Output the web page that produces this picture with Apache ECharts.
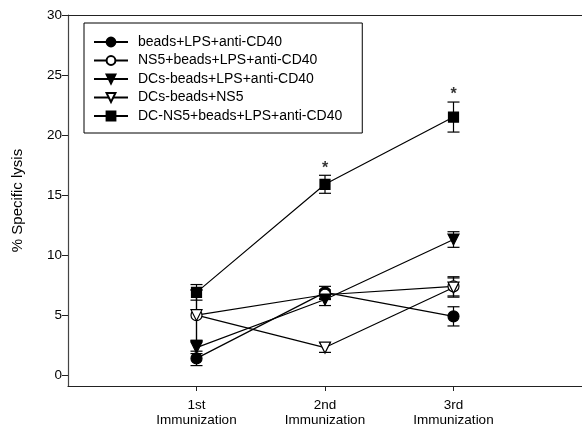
<!DOCTYPE html>
<html>
<head>
<meta charset="utf-8">
<script src="https://cdn.jsdelivr.net/npm/echarts@6/dist/echarts.min.js"></script>
<style>html,body{margin:0;padding:0;background:#fff}#c{width:582px;height:431px}</style>
</head>
<body>
<div id="c"></div>
<script>
var xPositions = [1, 2, 3];
var tickLabels = ['1st\nImmunization', '2nd\nImmunization', '3rd\nImmunization'];
var yTicks = [0, 5, 10, 15, 20, 25, 30];

var names = ['beads+LPS+anti-CD40', 'NS5+beads+LPS+anti-CD40', 'DCs-beads+LPS+anti-CD40', 'DCs-beads+NS5', 'DC-NS5+beads+LPS+anti-CD40'];
var beadsLps = [1.4, 6.9, 4.9];
var beadsLpsErr = [0.6, 0.5, 0.8];
var ns5BeadsLps = [5.0, 6.7, 7.4];
var ns5BeadsLpsErr = [2.1, 0.4, 0.8];
var dcsBeadsLps = [2.3, 6.3, 11.3];
var dcsBeadsLpsErr = [0.5, 0.5, 0.65];
var dcsBeadsNs5 = [5.0, 2.3, 7.3];
var dcsBeadsNs5Err = [2.1, 0.4, 0.8];
var dcNs5 = [6.9, 15.9, 21.5];
var dcNs5Err = [0.65, 0.75, 1.25];
var starIdx = [1, 2];

var downTri = 'path://M0,0 L10,0 L5,9 Z';
var sets = [
  {v: beadsLps, e: beadsLpsErr, sym: 'circle', size: 11, fill: '#000'},
  {v: ns5BeadsLps, e: ns5BeadsLpsErr, sym: 'circle', size: 11, fill: '#fff'},
  {v: dcsBeadsLps, e: dcsBeadsLpsErr, sym: downTri, size: 11, fill: '#000'},
  {v: dcsBeadsNs5, e: dcsBeadsNs5Err, sym: downTri, size: 11, fill: '#fff'},
  {v: dcNs5, e: dcNs5Err, sym: 'rect', size: 10, fill: '#000'}
];

var series = [];
sets.forEach(function (s, i) {
  var errData = s.v.map(function (v, j) { return [xPositions[j], v - s.e[j], v + s.e[j]]; });
  series.push({
    type: 'custom', silent: true, z: 2,
    data: errData,
    renderItem: function (params, api) {
      var lo = api.coord([api.value(0), api.value(1)]);
      var hi = api.coord([api.value(0), api.value(2)]);
      var w = 6;
      var st = {stroke: '#000', lineWidth: 1.2};
      return {type: 'group', children: [
        {type: 'line', shape: {x1: lo[0], y1: lo[1], x2: hi[0], y2: hi[1]}, style: st},
        {type: 'line', shape: {x1: lo[0] - w, y1: lo[1], x2: lo[0] + w, y2: lo[1]}, style: st},
        {type: 'line', shape: {x1: hi[0] - w, y1: hi[1], x2: hi[0] + w, y2: hi[1]}, style: st}
      ]};
    }
  });
  series.push({
    type: 'line', name: names[i], z: 3,
    data: s.v.map(function (v, j) { return [xPositions[j], v]; }),
    symbol: s.sym, symbolSize: s.size, showAllSymbol: true,
    lineStyle: {color: '#000', width: 1.2},
    itemStyle: {color: s.fill, borderColor: '#000', borderWidth: 1.2},
    emphasis: {disabled: true}
  });
});

series.push({
  type: 'scatter', silent: true, z: 4, symbolSize: 0,
  data: starIdx.map(function (j) { return [xPositions[j], dcNs5[j] + dcNs5Err[j]]; }),
  label: {show: true, position: 'top', distance: -1, formatter: '*', color: '#000', fontSize: 16, fontFamily: 'Liberation Sans', fontWeight: 'bold'}
});

var chart = echarts.init(document.getElementById('c'), null, {renderer: 'canvas'});
chart.setOption({
  animation: false,
  backgroundColor: '#fff',
  grid: {left: 68, right: 0, top: 15, bottom: 45},
  legend: {
    orient: 'vertical', left: 84, top: 23,
    padding: [11, 20, 9, 9], itemGap: 2.5, itemWidth: 34, itemHeight: 11,
    borderColor: '#000', borderWidth: 1,
    textStyle: {fontFamily: 'Liberation Sans', fontSize: 14, color: '#000', padding: [0, 0, 0, 5], lineHeight: 16},
    data: names
  },
  xAxis: [{
    type: 'value', min: 0, max: 4, position: 'bottom',
    splitLine: {show: false},
    axisLine: {onZero: false, lineStyle: {color: '#222', width: 1.2}},
    axisTick: {show: true, length: 5, customValues: xPositions, lineStyle: {color: '#222'}},
    axisLabel: {
      customValues: xPositions, margin: 12, lineHeight: 15,
      fontFamily: 'Liberation Sans', fontSize: 13.5, color: '#000',
      formatter: function (v) { var k = xPositions.indexOf(v); return k >= 0 ? tickLabels[k] : ''; }
    }
  }, {
    type: 'value', min: 0, max: 4, position: 'top',
    splitLine: {show: false},
    axisLine: {show: true, onZero: false, lineStyle: {color: '#222', width: 1.2}},
    axisTick: {show: false}, axisLabel: {show: false}
  }],
  yAxis: {
    type: 'value', min: -0.9, max: 30,
    name: '% Specific lysis', nameLocation: 'middle', nameGap: 43, nameRotate: 90,
    nameTextStyle: {fontFamily: 'Liberation Sans', fontSize: 15, color: '#000'},
    splitLine: {show: false},
    axisLine: {show: true, onZero: false, lineStyle: {color: '#444', width: 1.2}},
    axisTick: {show: true, length: 6, customValues: yTicks, lineStyle: {color: '#222'}},
    axisLabel: {customValues: yTicks, margin: 6, fontFamily: 'Liberation Sans', fontSize: 13.5, color: '#000'}
  },
  series: series
});
</script>
</body>
</html>
